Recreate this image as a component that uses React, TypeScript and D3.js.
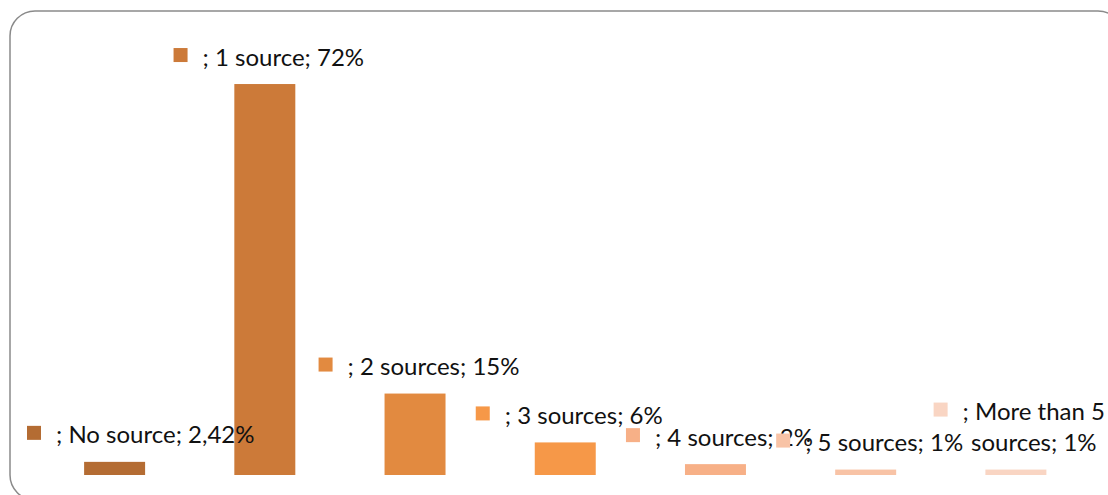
import React, { useEffect, useRef } from "react";
import * as d3 from "d3";

const categories = ["No source", "1 source", "2 sources", "3 sources", "4 sources", "5 sources", "More than 5 sources"];
const values = [2.42, 72, 15, 6, 2, 1, 1];
const labelLines: string[][] = [
  ["; No source; 2,42%"],
  ["; 1 source; 72%"],
  ["; 2 sources; 15%"],
  ["; 3 sources; 6%"],
  ["; 4 sources; 2%"],
  ["; 5 sources; 1%"],
  ["; More than 5", "sources; 1%"],
];
const colors = ["#B46C33", "#CC7A39", "#E28A40", "#F69848", "#F7B087", "#F8C3A6", "#F9D5C3"];

const W = 1108;
const H = 495;

export default function App() {
  const ref = useRef<SVGSVGElement>(null);
  useEffect(() => {
    const svg = d3.select(ref.current);
    svg.selectAll("*").remove();

    svg.append("rect")
      .attr("x", 10).attr("y", 11).attr("width", 1113).attr("height", 489)
      .attr("rx", 25).attr("ry", 25)
      .attr("fill", "#fff").attr("stroke", "#8a8a8a").attr("stroke-width", 1.5);

    const x = d3.scaleBand<string>().domain(categories).range([39.5, 1091])
      .paddingInner(0.594).paddingOuter(0.297);
    const y = d3.scaleLinear().domain([0, 80]).range([475, 475 - 80 * 5.43]);

    svg.append("g").selectAll("rect").data(categories).join("rect")
      .attr("x", (d) => x(d)!)
      .attr("y", (_, i) => y(values[i]))
      .attr("width", x.bandwidth())
      .attr("height", (_, i) => y(0) - y(values[i]))
      .attr("fill", (_, i) => colors[i]);

    const fontSize = 24;
    const lineH = 31;
    const keySize = 14;
    const gap = 15;
    const lg = svg.append("g").attr("font-family", "Lato, 'Noto Sans', sans-serif").attr("font-size", fontSize).attr("fill", "#111");

    categories.forEach((c, i) => {
      const lines = labelLines[i];
      const g = lg.append("g");
      const texts = lines.map((t) => g.append("text").text(t).attr("dominant-baseline", "central"));
      const widths = texts.map((t) => (t.node() as SVGTextElement).getComputedTextLength());
      const tw = Math.max(...widths);
      const total = keySize + gap + tw;
      const cx = x(c)! + x.bandwidth() / 2 + 4;
      let left = cx - total / 2;
      if (left < 27) left = 27;
      if (left + total > 1105) left = 1105 - total;
      const bottomY = y(values[i]) - 28;
      const firstY = bottomY - (lines.length - 1) * lineH;
      g.append("rect")
        .attr("x", left).attr("y", firstY - keySize / 2 - 1)
        .attr("width", keySize).attr("height", keySize)
        .attr("fill", colors[i]);
      const textLeft = left + keySize + gap;
      texts.forEach((t, j) => {
        t.attr("x", textLeft + (tw - widths[j]) / 2).attr("y", firstY + j * lineH);
      });
    });
  }, []);

  return (
    <svg ref={ref} width={W} height={H} style={{ position: "absolute", left: 0, top: 0, display: "block" }} />
  );
}
